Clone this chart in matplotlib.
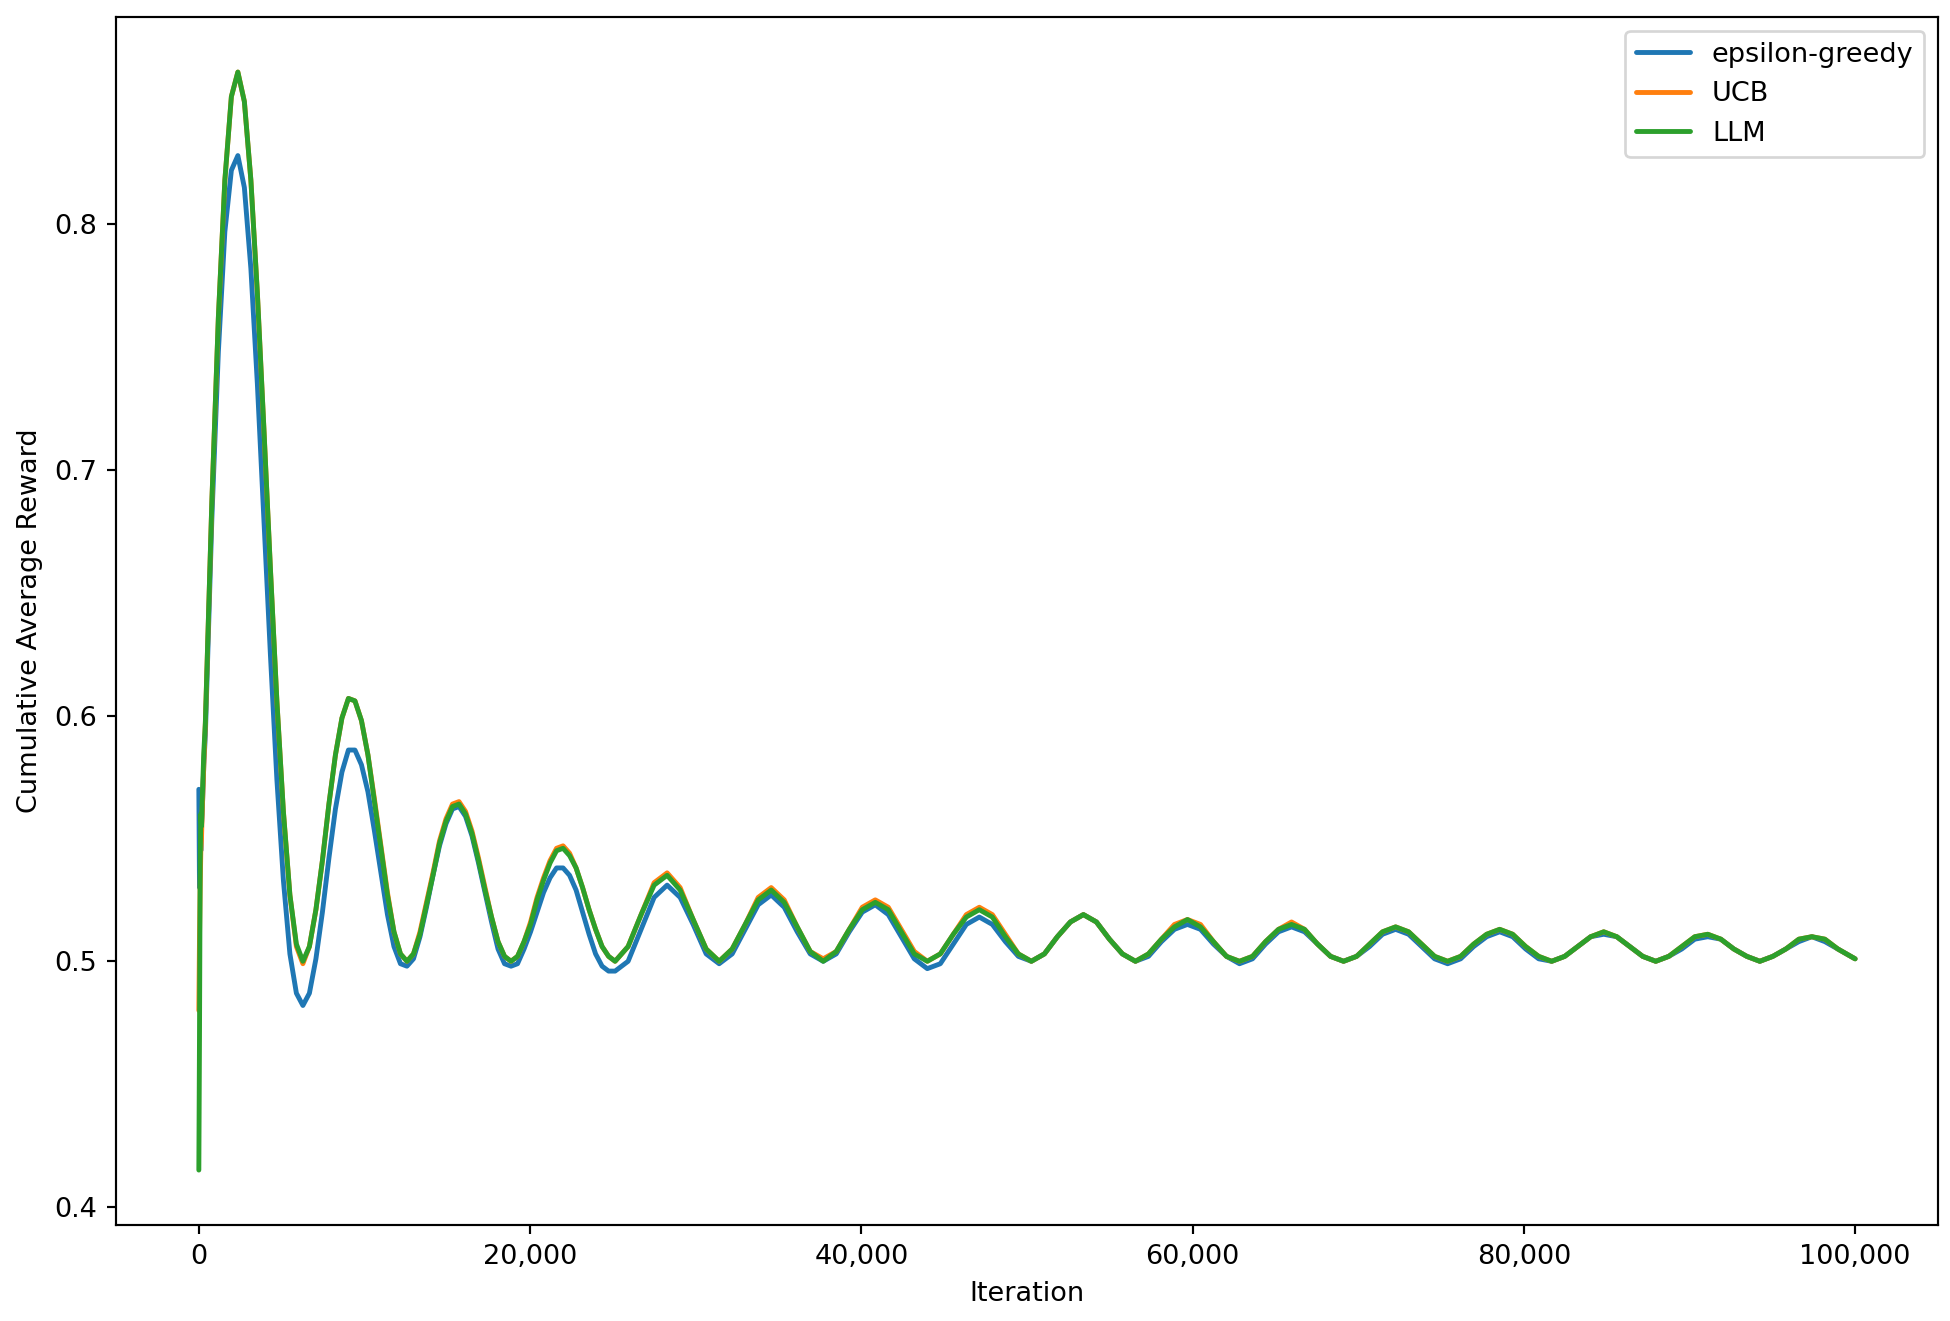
import numpy as np
import matplotlib
matplotlib.use("Agg")
import matplotlib.pyplot as plt
from matplotlib.ticker import FuncFormatter

# ---- sample iterations ----
early_iters = [0, 40, 80, 120, 160, 200, 300]
fine_step = 392.7      # first ~25k iterations sampled finely
coarse_step = 785.4    # afterwards
iters = np.array(early_iters
                 + [round(fine_step * m) for m in range(1, 65)]
                 + [round(coarse_step * k) for k in range(33, 128)]
                 + [100000])

# ---- series values ----
llm_early = [0.415, 0.470, 0.540, 0.560, 0.555, 0.565, 0.585]
llm_fine = [0.597, 0.687, 0.762, 0.818, 0.852, 0.862, 0.850, 0.818,
            0.772, 0.717, 0.660, 0.606, 0.561, 0.527, 0.507, 0.500,
            0.506, 0.521, 0.541, 0.564, 0.584, 0.599, 0.607, 0.606,
            0.598, 0.584, 0.565, 0.546, 0.527, 0.512, 0.503, 0.500,
            0.503, 0.511, 0.523, 0.535, 0.548, 0.557, 0.563, 0.564,
            0.560, 0.552, 0.541, 0.529, 0.518, 0.508, 0.502, 0.500,
            0.502, 0.508, 0.515, 0.525, 0.533, 0.540, 0.545, 0.546,
            0.543, 0.538, 0.530, 0.521, 0.513, 0.506, 0.502, 0.500]
llm_coarse = [0.506, 0.519, 0.531, 0.535, 0.529, 0.517, 0.505, 0.500,
              0.505, 0.515, 0.525, 0.529, 0.524, 0.514, 0.504, 0.500,
              0.504, 0.513, 0.521, 0.524, 0.521, 0.512, 0.503, 0.500,
              0.503, 0.511, 0.518, 0.521, 0.518, 0.510, 0.503, 0.500,
              0.503, 0.510, 0.516, 0.519, 0.516, 0.509, 0.503, 0.500,
              0.503, 0.509, 0.514, 0.517, 0.514, 0.508, 0.502, 0.500,
              0.502, 0.508, 0.513, 0.515, 0.513, 0.507, 0.502, 0.500,
              0.502, 0.507, 0.512, 0.514, 0.512, 0.507, 0.502, 0.500,
              0.502, 0.507, 0.511, 0.513, 0.511, 0.506, 0.502, 0.500,
              0.502, 0.506, 0.510, 0.512, 0.510, 0.506, 0.502, 0.500,
              0.502, 0.506, 0.510, 0.511, 0.509, 0.505, 0.502, 0.500,
              0.502, 0.505, 0.509, 0.510, 0.509, 0.505, 0.502, 0.501]

ucb_early = [0.480, 0.510, 0.530, 0.545, 0.550, 0.560, 0.580]
ucb_fine = [0.597, 0.687, 0.762, 0.818, 0.852, 0.862, 0.850, 0.818,
            0.772, 0.717, 0.660, 0.606, 0.561, 0.527, 0.506, 0.499,
            0.506, 0.521, 0.541, 0.564, 0.584, 0.599, 0.607, 0.606,
            0.598, 0.584, 0.566, 0.547, 0.528, 0.512, 0.503, 0.500,
            0.503, 0.512, 0.524, 0.536, 0.549, 0.558, 0.564, 0.565,
            0.561, 0.553, 0.542, 0.530, 0.518, 0.508, 0.502, 0.500,
            0.502, 0.508, 0.516, 0.526, 0.534, 0.541, 0.546, 0.547,
            0.544, 0.538, 0.530, 0.521, 0.513, 0.506, 0.502, 0.500]
ucb_coarse = [0.506, 0.519, 0.532, 0.536, 0.530, 0.517, 0.505, 0.500,
              0.505, 0.515, 0.526, 0.530, 0.525, 0.514, 0.504, 0.501,
              0.504, 0.513, 0.522, 0.525, 0.522, 0.513, 0.504, 0.500,
              0.503, 0.511, 0.519, 0.522, 0.519, 0.511, 0.503, 0.500,
              0.503, 0.510, 0.516, 0.519, 0.516, 0.509, 0.503, 0.500,
              0.503, 0.509, 0.515, 0.517, 0.515, 0.508, 0.502, 0.500,
              0.502, 0.508, 0.513, 0.516, 0.513, 0.507, 0.502, 0.500,
              0.502, 0.507, 0.512, 0.514, 0.512, 0.507, 0.502, 0.500,
              0.502, 0.507, 0.511, 0.513, 0.511, 0.506, 0.502, 0.500,
              0.502, 0.506, 0.510, 0.512, 0.510, 0.506, 0.502, 0.500,
              0.502, 0.506, 0.510, 0.511, 0.509, 0.505, 0.502, 0.500,
              0.502, 0.505, 0.509, 0.510, 0.509, 0.505, 0.502, 0.501]

eps_early = [0.570, 0.530, 0.560, 0.545, 0.555, 0.560, 0.580]
eps_fine = [0.592, 0.680, 0.748, 0.797, 0.822, 0.828, 0.815, 0.782,
            0.735, 0.680, 0.625, 0.574, 0.533, 0.503, 0.487, 0.482,
            0.487, 0.501, 0.520, 0.542, 0.562, 0.577, 0.586, 0.586,
            0.580, 0.569, 0.553, 0.536, 0.519, 0.506, 0.499, 0.498,
            0.501, 0.510, 0.522, 0.535, 0.547, 0.556, 0.562, 0.563,
            0.559, 0.551, 0.540, 0.528, 0.516, 0.505, 0.499, 0.498,
            0.499, 0.505, 0.512, 0.520, 0.528, 0.534, 0.538, 0.538,
            0.535, 0.529, 0.520, 0.511, 0.503, 0.498, 0.496, 0.496]
eps_coarse = [0.500, 0.513, 0.526, 0.531, 0.526, 0.515, 0.503, 0.499,
              0.503, 0.513, 0.523, 0.527, 0.522, 0.512, 0.503, 0.500,
              0.503, 0.512, 0.520, 0.523, 0.519, 0.510, 0.501, 0.497,
              0.499, 0.507, 0.515, 0.518, 0.515, 0.508, 0.502, 0.500,
              0.503, 0.510, 0.516, 0.519, 0.516, 0.509, 0.503, 0.500,
              0.502, 0.508, 0.513, 0.515, 0.513, 0.507, 0.502, 0.499,
              0.501, 0.507, 0.512, 0.514, 0.512, 0.507, 0.502, 0.500,
              0.502, 0.506, 0.511, 0.513, 0.511, 0.506, 0.501, 0.499,
              0.501, 0.506, 0.510, 0.512, 0.510, 0.505, 0.501, 0.500,
              0.502, 0.506, 0.510, 0.511, 0.510, 0.506, 0.502, 0.500,
              0.502, 0.505, 0.509, 0.510, 0.509, 0.505, 0.502, 0.500,
              0.502, 0.505, 0.508, 0.510, 0.508, 0.505, 0.502, 0.501]

series_names = ["epsilon-greedy", "UCB", "LLM"]
series_colors = ["#1f77b4", "#ff7f0e", "#2ca02c"]
eps = eps_early + eps_fine + eps_coarse
ucb = ucb_early + ucb_fine + ucb_coarse
llm = llm_early + llm_fine + llm_coarse

x_ticks = [0, 20000, 40000, 60000, 80000, 100000]
y_ticks = [0.4, 0.5, 0.6, 0.7, 0.8]

plt.rcParams['font.family'] = ['DejaVu Sans']
fig = plt.figure(figsize=(10, 1321 / 195), dpi=195)
ax = fig.add_axes([0.0595, 0.0727, 0.9343, 0.9143])

for name, vals, col in zip(series_names, [eps, ucb, llm], series_colors):
    ax.plot(iters, vals, color=col, lw=1.8, label=name,
            solid_joinstyle="round", solid_capstyle="round")

ax.set_xticks(x_ticks)
ax.set_yticks(y_ticks)
ax.xaxis.set_major_formatter(FuncFormatter(lambda v, p: f"{int(v):,}"))
ax.set_xlabel("Iteration")
ax.set_ylabel("Cumulative Average Reward")
ax.legend(loc="upper right")

fig.savefig("out.png", dpi=195)
